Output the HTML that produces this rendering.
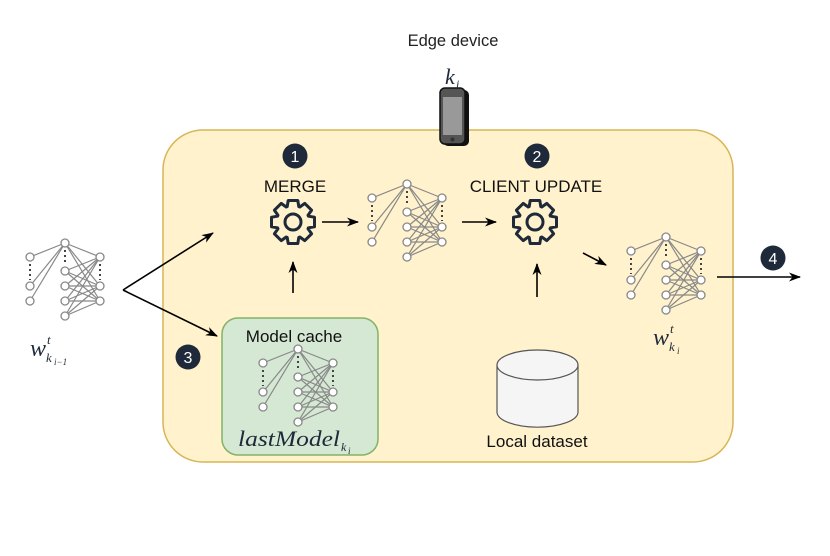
<!DOCTYPE html>
<html><head><meta charset="utf-8"><style>
body{margin:0;background:#fff}
svg{display:block}
text{font-family:"Liberation Sans",sans-serif}
.m{font-family:"Liberation Serif",serif;font-style:italic;fill:#1e2a3a}
</style></head><body>
<svg id="s" width="830" height="556" viewBox="0 0 830 556" xmlns="http://www.w3.org/2000/svg">
<defs>
<marker id="a" markerWidth="12" markerHeight="12" refX="11" refY="6" orient="auto" markerUnits="userSpaceOnUse"><path d="M0,1.5 L12,6 L0,10.5 L3.5,6 Z" fill="#000"/></marker>
</defs>
<text x="453" y="46" font-size="16.5" text-anchor="middle" fill="#222">Edge device</text>
<rect x="163" y="130" width="570" height="332" rx="40" fill="#fff2cc" stroke="#d6b656" stroke-width="1.5"/>
<rect x="222" y="318" width="156" height="137" rx="16" fill="#d5e8d4" stroke="#82b366" stroke-width="1.5"/>
<text x="294" y="342" font-size="17" text-anchor="middle" fill="#111">Model cache</text>
<text class="m" x="238" y="446" font-size="22" textLength="102" lengthAdjust="spacingAndGlyphs">lastModel</text><text class="m" x="341" y="451" font-size="12">k</text><text class="m" x="348" y="454" font-size="9">i</text>
<text x="295" y="192" font-size="17" text-anchor="middle" fill="#111">MERGE</text>
<text x="536" y="192" font-size="17" text-anchor="middle" fill="#111">CLIENT UPDATE</text>
<text x="537" y="447" font-size="17" text-anchor="middle" fill="#111">Local dataset</text>
<!-- cylinder -->
<path d="M497,365 L497,412 A40,15 0 0 0 578,412 L578,365" fill="#f5f5f5" stroke="#555" stroke-width="1.2"/>
<ellipse cx="537.5" cy="365" rx="40.5" ry="15" fill="#f5f5f5" stroke="#555" stroke-width="1.2"/>
<!-- phone -->
<rect x="443" y="90" width="26" height="56" rx="5" fill="#111"/>
<rect x="440" y="88" width="25" height="56" rx="5" fill="#555" stroke="#111" stroke-width="1.5"/>
<rect x="443" y="97" width="19" height="38" fill="#999"/>
<circle cx="452.5" cy="139.5" r="2" fill="#333"/>
<text class="m" x="445" y="84" font-size="22">k</text><text class="m" x="456" y="88" font-size="12">i</text>
<!-- labels -->
<text class="m" x="30" y="356" font-size="24">w</text><text class="m" x="47" y="344" font-size="13">t</text><text class="m" x="46" y="362" font-size="13">k</text><text class="m" x="54" y="365" font-size="9">i−1</text>
<text class="m" x="653" y="345" font-size="24">w</text><text class="m" x="670" y="333" font-size="13">t</text><text class="m" x="669" y="351" font-size="13">k</text><text class="m" x="677" y="354" font-size="9">i</text>
<!-- arrows -->
<g stroke="#000" stroke-width="1.6" fill="none" marker-end="url(#a)">
<line x1="123" y1="290" x2="213" y2="233"/>
<line x1="123" y1="290" x2="217" y2="336"/>
<line x1="322" y1="222" x2="358" y2="222"/>
<line x1="462" y1="222" x2="496" y2="222"/>
<line x1="583" y1="253" x2="606" y2="265"/>
<line x1="717" y1="277" x2="800" y2="277"/>
<line x1="293" y1="293" x2="293" y2="262"/>
<line x1="537" y1="297" x2="537" y2="264"/>
</g>
<g id="g"></g>
</svg>
<script>
var g=document.getElementById('g'),h="";
function net(x,y){
 var L=[[x-35,y+14],[x-35,y+43],[x-35,y+58]],M=[[x,y],[x,y+28],[x,y+43],[x,y+58],[x,y+73]],R=[[x+35,y+14],[x+35,y+43],[x+35,y+58]];
 L.forEach(function(p){h+='<line x1="'+p[0]+'" y1="'+p[1]+'" x2="'+x+'" y2="'+y+'" stroke="#888" stroke-width="1.2"/>';});
 M.forEach(function(p){R.forEach(function(q){h+='<line x1="'+p[0]+'" y1="'+p[1]+'" x2="'+q[0]+'" y2="'+q[1]+'" stroke="#888" stroke-width="1.2"/>';});});
 h+='<line x1="'+(x-35)+'" y1="'+(y+21)+'" x2="'+(x-35)+'" y2="'+(y+37)+'" stroke="#444" stroke-width="2" stroke-dasharray="2,3"/>';
 h+='<line x1="'+x+'" y1="'+(y+7)+'" x2="'+x+'" y2="'+(y+22)+'" stroke="#444" stroke-width="2" stroke-dasharray="2,3"/>';
 h+='<line x1="'+(x+35)+'" y1="'+(y+21)+'" x2="'+(x+35)+'" y2="'+(y+37)+'" stroke="#444" stroke-width="2" stroke-dasharray="2,3"/>';
 L.concat(M,R).forEach(function(p){h+='<circle cx="'+p[0]+'" cy="'+p[1]+'" r="4" fill="#fff" stroke="#888" stroke-width="1.3"/>';});
}
net(65,243);net(407,184);net(666,237);net(298,349);
function gear(cx,cy){
 var pts=[],R1=22,R0=16.5;
 for(var i=0;i<8;i++){var c=i*Math.PI/4;
  [[-0.36,R0],[-0.22,R1],[0.22,R1],[0.36,R0]].forEach(function(a){var an=c+a[0];pts.push((cx+a[1]*Math.cos(an)).toFixed(1)+','+(cy+a[1]*Math.sin(an)).toFixed(1));});}
 h+='<polygon points="'+pts.join(' ')+'" fill="none" stroke="#1e2a3a" stroke-width="3" stroke-linejoin="round"/><circle cx="'+cx+'" cy="'+cy+'" r="8" fill="none" stroke="#1e2a3a" stroke-width="3"/>';
}
gear(293,222);gear(535,222);
[[295,156,'1'],[537,156,'2'],[773,258,'4'],[188,357,'3']].forEach(function(c){
 h+='<circle cx="'+c[0]+'" cy="'+c[1]+'" r="12.5" fill="#1e2a3a"/><text x="'+c[0]+'" y="'+(c[1]+6)+'" font-size="16" text-anchor="middle" fill="#fff">'+c[2]+'</text>';});
g.innerHTML=h;
</script>
</body></html>
